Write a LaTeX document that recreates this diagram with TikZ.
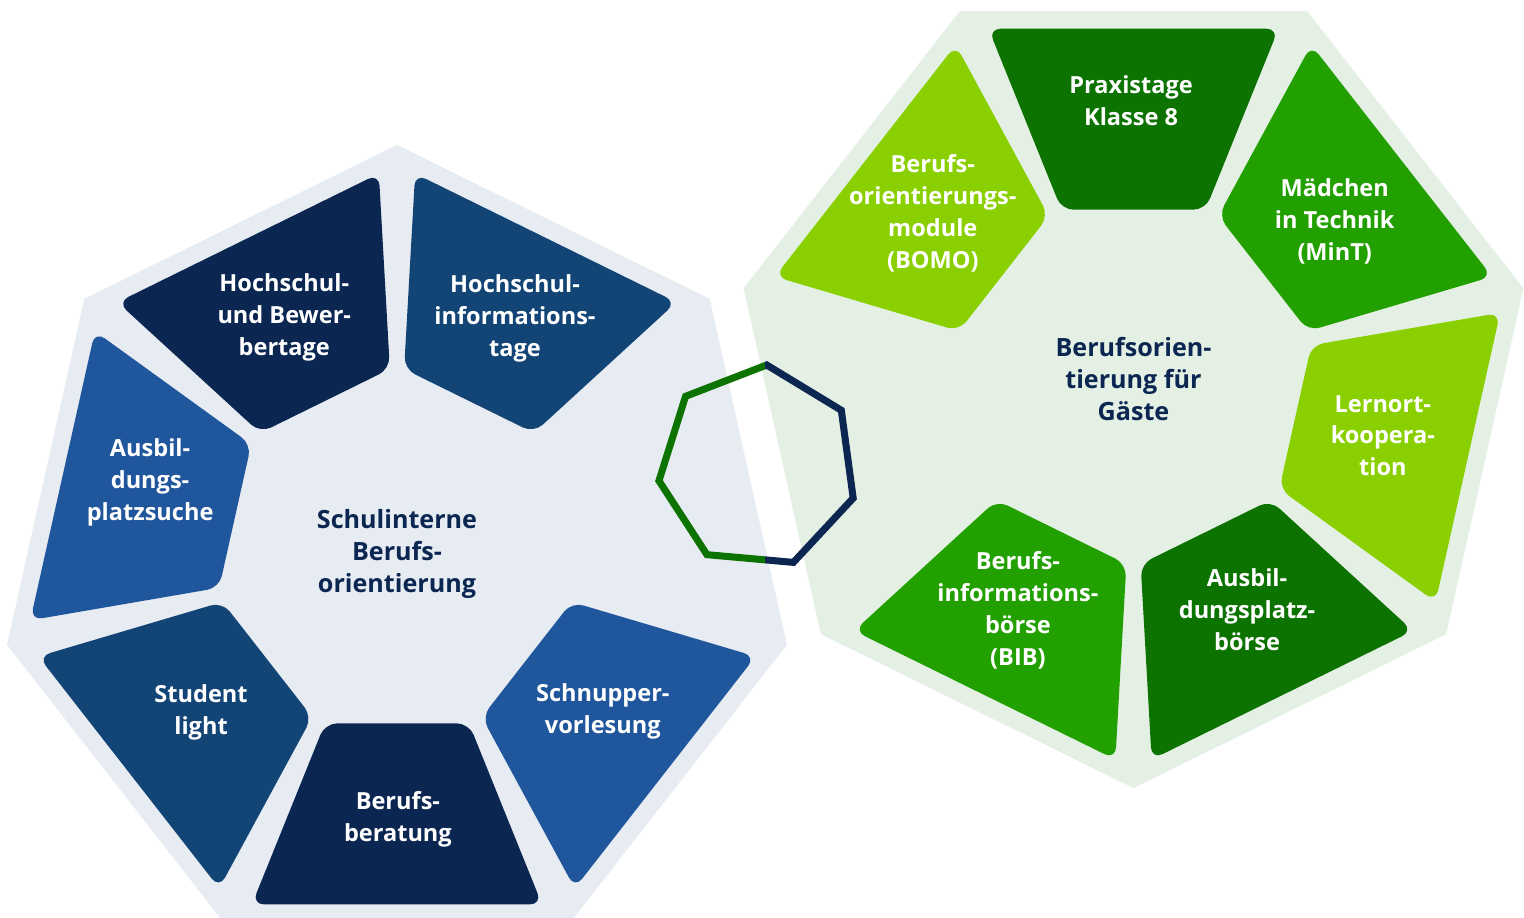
\documentclass[tikz,border=0pt]{standalone}
\usepackage{fontspec}
\setmainfont{Open Sans}
\usetikzlibrary{calc}

\definecolor{bgblue}{HTML}{E7ECF3}
\definecolor{bggreen}{HTML}{E5F0E5}
\definecolor{navy}{HTML}{0A2651}
\definecolor{midblue}{HTML}{124476}
\definecolor{ltblue}{HTML}{1F569C}
\definecolor{dkgreen}{HTML}{0C7300}
\definecolor{mdgreen}{HTML}{22A000}
\definecolor{ltgreen}{HTML}{8AD000}

\tikzset{
	seg/.style={rounded corners=2.4mm},
	segtext/.style={text=white, align=center, yshift=-1pt, font=\fontsize{13.4}{18.2}\selectfont\bfseries},
	hubtext/.style={text=navy, align=center, font=\fontsize{14.3}{18.2}\selectfont\bfseries},
	ring/.style={line width=4pt},
}

\begin{document}
\begin{tikzpicture}[x=0.02cm, y=0.02045cm]

% frame %{{{2

	\useasboundingbox (0,0) rectangle (1524,897.8);

% coordinates %{{{2

	\coordinate (LC) at (397,356);
	\coordinate (RC) at (1133.5,526.7);
	\coordinate (MC) at (758,441.1);

	\foreach \i in {0,...,6} {
		\coordinate (L\i) at ($(LC)+({90+\i*51.4286}:400)$);
		\coordinate (R\i) at ($(RC)+({64.2857+\i*51.4286}:400)$);
		\coordinate (M\i) at ($(MC)+({85-\i*51.4286}:100)$);
	}

% backgrounds %{{{2

	\fill[bgblue] (L0) \foreach \i in {1,...,6} { -- (L\i) } -- cycle;
	\fill[bggreen] (R0) \foreach \i in {1,...,6} { -- (R\i) } -- cycle;

% left segments %{{{2

	\foreach \a/\b/\r/\c/\t [count=\n] in {
		115.71/115.8/259/navy/{Hochschul-\\und Bewer-\\bertage},
		64.29/63.0/260/midblue/{Hochschul-\\informations-\\tage},
		167.14/163.9/257/ltblue/{Ausbil-\\dungs-\\platzsuche},
		218.57/218.1/249/midblue/{Student\\light},
		270/270.2/258/navy/{Berufs-\\beratung},
		321.43/323.5/256/ltblue/{Schnupper-\\vorlesung}} {
		\fill[seg, \c] ($(LC)+({\a-23.45}:180.9)$) -- ($(LC)+({\a+23.45}:180.9)$)
			-- ($(LC)+({\a+22.92}:372.4)$) -- ($(LC)+({\a-22.92}:372.4)$) -- cycle;
		\node[segtext] (ls\n) at ($(LC)+(\b:\r)$) {\t};
	}

% right segments %{{{2

	\foreach \a/\b/\r/\c/\t [count=\n] in {
		90/90.5/274/dkgreen/{Praxistage\\Klasse 8},
		141.43/140.8/259/ltgreen/{Berufs-\\orientierungs-\\module\\(BOMO)},
		38.57/37.9/255/mdgreen/{Mädchen\\in Technik\\(MinT)},
		347.14/347.9/255/ltgreen/{Lernort-\\koopera-\\tion},
		295.71/296.9/251/dkgreen/{Ausbil-\\dungsplatz-\\börse},
		244.29/242.7/252/mdgreen/{Berufs-\\informations-\\börse\\(BIB)}} {
		\fill[seg, \c] ($(RC)+({\a-23.45}:180.9)$) -- ($(RC)+({\a+23.45}:180.9)$)
			-- ($(RC)+({\a+22.92}:372.4)$) -- ($(RC)+({\a-22.92}:372.4)$) -- cycle;
		\node[segtext] (rs\n) at ($(RC)+(\b:\r)$) {\t};
	}

% hubs %{{{2

	\node[hubtext] (lhub) at (LC) {Schulinterne\\Berufs-\\orientierung};
	\node[hubtext] (rhub) at (RC) {Berufsorien-\\tierung für\\Gäste};

% ring %{{{2

	\begin{scope}
		\clip (0,0) rectangle (765,897.8);
		\draw[ring, dkgreen] (M0) \foreach \i in {1,...,6} { -- (M\i) } -- cycle;
	\end{scope}
	\begin{scope}
		\clip (765,0) rectangle (1524,897.8);
		\draw[ring, navy] (M0) \foreach \i in {1,...,6} { -- (M\i) } -- cycle;
	\end{scope}

\end{tikzpicture}
\end{document}
